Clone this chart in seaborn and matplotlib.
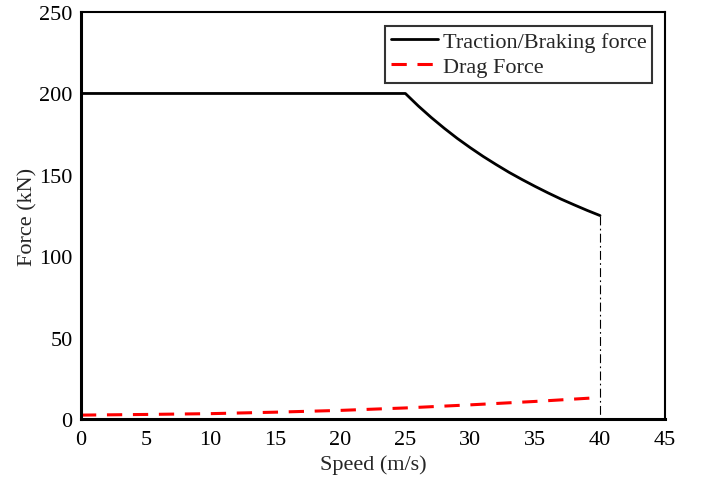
import matplotlib
matplotlib.use("Agg")
import matplotlib.pyplot as plt
import seaborn as sns
import pandas as pd

# Data
traction_speed = [0, 25, 26, 27, 28, 29, 30, 31, 32, 33, 34, 35, 36, 37, 38, 39, 40]
traction_force = [200, 200, 192.3, 185.2, 178.6, 172.4, 166.7, 161.3, 156.3, 151.5, 147.1, 142.9, 138.9, 135.1, 131.6, 128.2, 125]
drag_speed = [0, 5, 10, 15, 20, 25, 30, 35, 40]
drag_force = [2.4, 2.8, 3.3, 4.2, 5.3, 6.8, 8.7, 10.8, 13.2]
cutoff_speed = [40, 40]
cutoff_force = [125, 0]
x_ticks = [0, 5, 10, 15, 20, 25, 30, 35, 40, 45]
y_ticks = [0, 50, 100, 150, 200, 250]

sns.set_style("white")
plt.rcParams['font.family'] = ['Liberation Serif', 'DejaVu Serif']

fig = plt.figure(figsize=(7.01, 4.85), dpi=100)
ax = fig.add_axes([0.1155, 0.134, 0.833, 0.839])

df_t = pd.DataFrame({"speed": traction_speed, "force": traction_force})
df_d = pd.DataFrame({"speed": drag_speed, "force": drag_force})
df_c = pd.DataFrame({"speed": cutoff_speed, "force": cutoff_force})

sns.lineplot(data=df_t, x="speed", y="force", ax=ax, color="black", lw=2,
             label="Traction/Braking force", estimator=None, sort=False)
sns.lineplot(data=df_d, x="speed", y="force", ax=ax, color="red", lw=2.2,
             label="Drag Force", estimator=None, sort=False)
ax.lines[-1].set_dashes([5, 3.5])
sns.lineplot(data=df_c, x="speed", y="force", ax=ax, color="black", lw=0.8,
             estimator=None, sort=False, legend=False)
ax.lines[-1].set_linestyle((0, (8, 3, 1.5, 3)))

ax.set_xlim(0, 45)
ax.set_ylim(0, 250)
ax.set_xticks(x_ticks)
ax.set_yticks(y_ticks)
ax.tick_params(axis='both', direction='in', length=5, width=1.5, labelsize=16,
               colors='black', pad=6)
ax.tick_params(axis='x', pad=8)
ax.set_xlabel("Speed (m/s)", fontsize=16, labelpad=4)
ax.set_ylabel("Force (kN)", fontsize=16, labelpad=1)
for s in ax.spines.values():
    s.set_visible(True)
    s.set_color('black')
    s.set_linewidth(1.5)
ax.spines['left'].set_linewidth(2.2)
ax.spines['bottom'].set_linewidth(2.2)

leg = ax.legend(loc='upper right', bbox_to_anchor=(0.978, 0.966),
                fontsize=16, frameon=True, fancybox=False,
                edgecolor='#333333', handlelength=2.15, handletextpad=0.2,
                borderpad=0.25, labelspacing=0.2, borderaxespad=0)
leg.get_frame().set_linewidth(1.5)
leg.get_frame().set_facecolor('white')
leg.get_frame().set_alpha(1)

fig.savefig("out.png", dpi=100)
